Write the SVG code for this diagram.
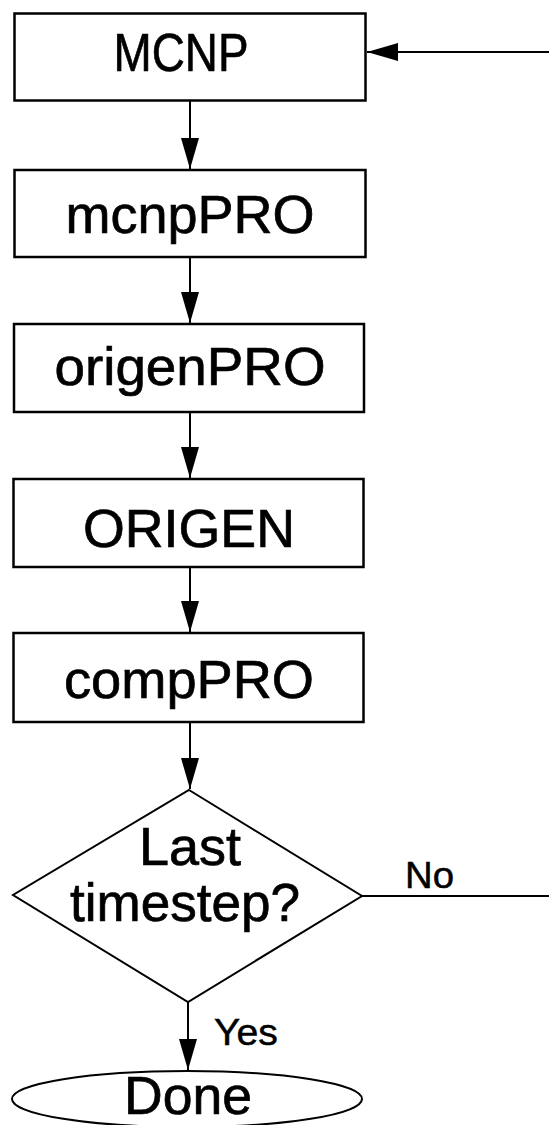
<svg xmlns="http://www.w3.org/2000/svg" width="549" height="1125" viewBox="0 0 549 1125">
<style>
.box{fill:#fff;stroke:#000;stroke-width:2.5}
.dia{fill:#fff;stroke:#000;stroke-width:2}
.lbl{font-family:"Liberation Sans",Arial,sans-serif;font-size:54px;fill:#000;stroke:#000;stroke-width:0.7;text-anchor:middle}
.sm{font-family:"Liberation Sans",Arial,sans-serif;font-size:37px;fill:#000;stroke:#000;stroke-width:0.5}
.con{fill:none;stroke:#000;stroke-width:2}
</style>
<defs>
<marker id="arr" markerUnits="userSpaceOnUse" markerWidth="32" markerHeight="20" refX="31" refY="9" orient="auto">
<path d="M0,0 L31,9 L0,18 z" fill="#000"/>
</marker>
</defs>
<rect width="549" height="1125" fill="#fff"/>
<g id="connectors">
<path class="con" d="M190,101 V169" marker-end="url(#arr)"/>
<path class="con" d="M190,258 V323" marker-end="url(#arr)"/>
<path class="con" d="M190,413 V478" marker-end="url(#arr)"/>
<path class="con" d="M190,568 V632" marker-end="url(#arr)"/>
<path class="con" d="M190,723 V789" marker-end="url(#arr)"/>
<path class="con" d="M188,1002 V1070" marker-end="url(#arr)"/>
<path class="con" d="M362,896 H555 V52 H367" marker-end="url(#arr)"/>
</g>
<g id="n_mcnp">
<rect class="box" x="14.5" y="13.5" width="351" height="87"/>
<text class="lbl" x="181" y="71" textLength="135" lengthAdjust="spacingAndGlyphs">MCNP</text>
</g>
<g id="n_mcnppro">
<rect class="box" x="14.5" y="170" width="351" height="87"/>
<text class="lbl" x="190" y="233" textLength="249" lengthAdjust="spacingAndGlyphs">mcnpPRO</text>
</g>
<g id="n_origenpro">
<rect class="box" x="14" y="324" width="350" height="88"/>
<text class="lbl" x="190" y="385" textLength="271" lengthAdjust="spacingAndGlyphs">origenPRO</text>
</g>
<g id="n_origen">
<rect class="box" x="13.5" y="479" width="350" height="88"/>
<text class="lbl" x="189" y="547" textLength="212" lengthAdjust="spacingAndGlyphs">ORIGEN</text>
</g>
<g id="n_comppro">
<rect class="box" x="13.5" y="633" width="350" height="89"/>
<text class="lbl" x="189" y="698" textLength="250" lengthAdjust="spacingAndGlyphs">compPRO</text>
</g>
<g id="n_decision">
<polygon class="dia" points="189,790 362,896 188,1002 13,895"/>
<text class="lbl" x="190" y="865" font-size="45" textLength="102" lengthAdjust="spacingAndGlyphs">Last</text>
<text class="lbl" x="185" y="921" font-size="45" textLength="230" lengthAdjust="spacingAndGlyphs">timestep?</text>
</g>
<g id="lbl_no">
<text class="sm" x="405" y="888" textLength="49" lengthAdjust="spacingAndGlyphs">No</text>
</g>
<g id="lbl_yes">
<text class="sm" x="214" y="1045" textLength="64" lengthAdjust="spacingAndGlyphs">Yes</text>
</g>
<g id="n_done">
<ellipse class="dia" cx="187" cy="1099" rx="175" ry="28"/>
<text class="lbl" x="188" y="1114" font-size="50" textLength="128" lengthAdjust="spacingAndGlyphs">Done</text>
</g>
</svg>
